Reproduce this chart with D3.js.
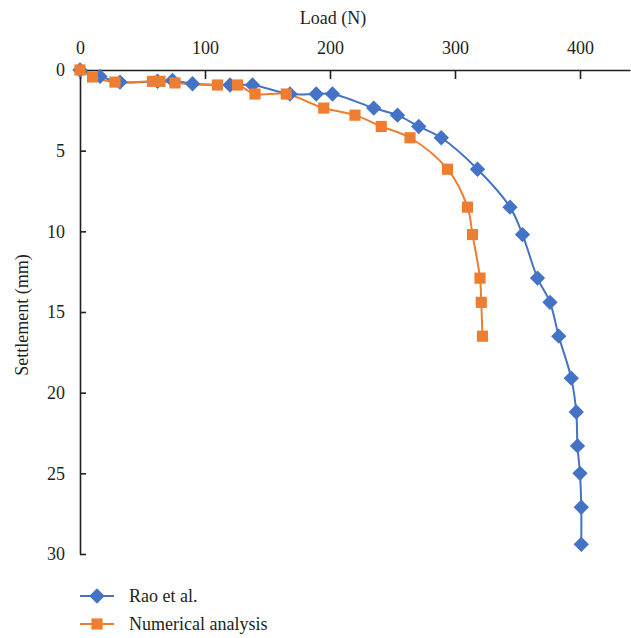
<!DOCTYPE html>
<html>
<head>
<meta charset="utf-8">
<script src="https://cdn.jsdelivr.net/npm/d3@7"></script>
<style>
  body { margin: 0; background: #fff; }
  svg text { font-family: "Liberation Serif", "DejaVu Serif", serif !important; fill: #231f20; }
</style>
</head>
<body>
<div id="chart"></div>
<script>
// settlement (mm) vs load (N)
var raoLoad = [0, 16, 32, 62, 74, 90, 120, 138, 168, 189, 202, 235, 254, 271, 289, 318, 344, 354, 366, 376, 383, 393, 397, 398, 400, 401, 401];
var raoSettle = [0, 0.4, 0.75, 0.7, 0.65, 0.85, 0.93, 0.93, 1.49, 1.49, 1.49, 2.36, 2.8, 3.5, 4.2, 6.15, 8.5, 10.2, 12.9, 14.4, 16.5, 19.1, 21.2, 23.3, 25.0, 27.1, 29.4];

var numLoad = [0, 10, 28, 58, 64, 76, 110, 126, 140, 165, 195, 220, 241, 264, 294, 310, 314, 320, 321, 322];
var numSettle = [0, 0.43, 0.75, 0.7, 0.7, 0.8, 0.93, 0.93, 1.49, 1.49, 2.36, 2.8, 3.5, 4.2, 6.15, 8.5, 10.2, 12.9, 14.4, 16.5];

var xTicks = [0, 100, 200, 300, 400];
var yTicks = [0, 5, 10, 15, 20, 25, 30];

var seriesNames = ["Rao et al.", "Numerical analysis"];
var colors = ["#4472c4", "#ed7d31"];

var width = 631, height = 638;
var margin = {top: 70, left: 80, right: 1, bottom: 84};

var svg = d3.select("#chart").append("svg")
  .attr("width", width)
  .attr("height", height);

var x = d3.scaleLinear().domain([0, 440]).range([margin.left, 630]);
var y = d3.scaleLinear().domain([0, 30]).range([margin.top, 554]);

// top axis
var xAxis = d3.axisTop(x).tickValues(xTicks).tickSize(-9).tickPadding(16).tickSizeOuter(0);
var gx = svg.append("g").attr("transform", "translate(0," + margin.top + ")").call(xAxis);

var yAxis = d3.axisLeft(y).tickValues(yTicks).tickSize(-6).tickPadding(15).tickSizeOuter(0);
var gy = svg.append("g").attr("transform", "translate(" + margin.left + ",0)").call(yAxis);

[gx, gy].forEach(function(g) {
  g.attr("font-family", null).attr("font-size", null);
  g.select(".domain").attr("stroke", "#231f20").attr("stroke-width", 1.6);
  g.selectAll(".tick line").attr("stroke", "#231f20").attr("stroke-width", 1.6);
  g.selectAll(".tick text").attr("font-size", 18).attr("fill", "#231f20");
});

svg.append("text")
  .attr("x", x(200) + 3).attr("y", 24)
  .attr("text-anchor", "middle").attr("font-size", 18)
  .text("Load (N)");

svg.append("text")
  .attr("transform", "translate(28,315) rotate(-90)")
  .attr("text-anchor", "middle").attr("font-size", 18)
  .text("Settlement (mm)");

var line = d3.line()
  .x(function(d) { return x(d[0]); })
  .y(function(d) { return y(d[1]); })
  .curve(d3.curveCatmullRom.alpha(0.5));

var series = [
  d3.zip(raoLoad, raoSettle),
  d3.zip(numLoad, numSettle)
];

var diamond = d3.symbol().type(d3.symbolDiamond2).size(150);
var square = d3.symbol().type(d3.symbolSquare).size(125);
var shapes = [diamond, square];

series.forEach(function(data, i) {
  svg.append("path")
    .datum(data)
    .attr("fill", "none")
    .attr("stroke", colors[i])
    .attr("stroke-width", 2)
    .attr("d", line);
});

series.forEach(function(data, i) {
  svg.selectAll(".pt" + i)
    .data(data)
    .enter().append("path")
    .attr("class", "pt" + i)
    .attr("transform", function(d) { return "translate(" + x(d[0]) + "," + y(d[1]) + ")"; })
    .attr("d", shapes[i]())
    .attr("fill", colors[i]);
});

// legend
var legendY = [596, 624];
seriesNames.forEach(function(name, i) {
  var g = svg.append("g").attr("transform", "translate(0," + legendY[i] + ")");
  g.append("line").attr("x1", 80).attr("x2", 114).attr("stroke", colors[i]).attr("stroke-width", 2);
  g.append("path").attr("transform", "translate(97,0)").attr("d", shapes[i]()).attr("fill", colors[i]);
  g.append("text").attr("x", 129).attr("y", 6).attr("font-size", 18).text(name);
});
</script>
</body>
</html>
